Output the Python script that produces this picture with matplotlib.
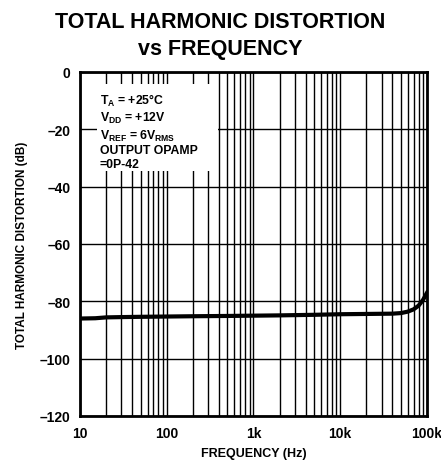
import matplotlib
matplotlib.use('Agg')
import matplotlib.pyplot as plt
import numpy as np
from matplotlib.ticker import FixedLocator, LogLocator, NullFormatter

plt.rcParams['font.family'] = ['Liberation Sans', 'DejaVu Sans']
plt.rcParams['font.weight'] = 'bold'
plt.rcParams['mathtext.fontset'] = 'custom'
plt.rcParams['mathtext.rm'] = 'Liberation Sans:bold'
plt.rcParams['mathtext.it'] = 'Liberation Sans:bold'
plt.rcParams['mathtext.bf'] = 'Liberation Sans:bold'

# THD curve
freq_hz = [10, 15, 20, 30, 50, 100, 200, 500, 1000, 2000, 5000, 10000, 20000, 40000, 50000, 60000, 70000, 80000, 90000, 100000]
thd_db = [-86.0, -85.9, -85.6, -85.5, -85.4, -85.3, -85.2, -85.1, -85.0, -84.9, -84.7, -84.5, -84.4, -84.3, -84.1, -83.6, -82.8, -81.5, -79.5, -77.0]

x_ticks = [10, 100, 1000, 10000, 100000]
x_labels = ['10', '100', '1k', '10k', '100k']
y_ticks = [0, -20, -40, -60, -80, -100, -120]
y_labels = ['0', '\u201320', '\u201340', '\u201360', '\u201380', '\u2013100', '\u2013120']

fig = plt.figure(figsize=(4.41, 4.64), dpi=100)
ax = fig.add_axes([80/441, 1 - 417/464, 347/441, 344/464])

ax.set_xscale('log')
ax.set_xlim(10, 100000)
ax.set_ylim(-120, 0)
ax.xaxis.set_major_locator(FixedLocator(x_ticks))
ax.set_xticklabels(x_labels)
ax.xaxis.set_minor_locator(LogLocator(base=10, subs=np.arange(2, 10)))
ax.xaxis.set_minor_formatter(NullFormatter())
ax.set_yticks(y_ticks)
ax.set_yticklabels(y_labels)

ax.grid(True, which='both', axis='x', color='black', linewidth=1.0)
ax.grid(True, which='major', axis='y', color='black', linewidth=1.0)
ax.tick_params(which='both', length=0, labelsize=10, pad=7)
for s in ax.spines.values():
    s.set_linewidth(2)

ax.plot(freq_hz, thd_db, color='black', linewidth=3, zorder=5)

ax.set_xlabel('FREQUENCY (Hz)', fontsize=9, fontweight='bold', labelpad=5)
ax.set_ylabel('TOTAL HARMONIC DISTORTION (dB)', fontsize=8.5, fontweight='bold', labelpad=8)

fig.text(0.5, 1 - 22/464, 'TOTAL HARMONIC DISTORTION', ha='center', va='center', fontsize=15.5, fontweight='bold')
fig.text(0.5, 1 - 50/464, 'vs FREQUENCY', ha='center', va='center', fontsize=15.5, fontweight='bold')

# white patch behind the conditions text
ax.add_patch(plt.Rectangle((97/441, 1 - 172/464), (218 - 97)/441, (172 - 85)/464,
                           transform=fig.transFigure, facecolor='white', edgecolor='none', zorder=3))
cond = ['$T_A$ = +25°C', '$V_{DD}$ = +12V', '$V_{REF}$ = 6$V_{RMS}$', 'OUTPUT OPAMP', '=0P-42']
fig.text(100/441, 1 - 93/464, '\n'.join(cond), ha='left', va='top', fontsize=8.8,
         fontweight='bold', linespacing=1.2, zorder=6)

fig.savefig('out.png', dpi=100)
